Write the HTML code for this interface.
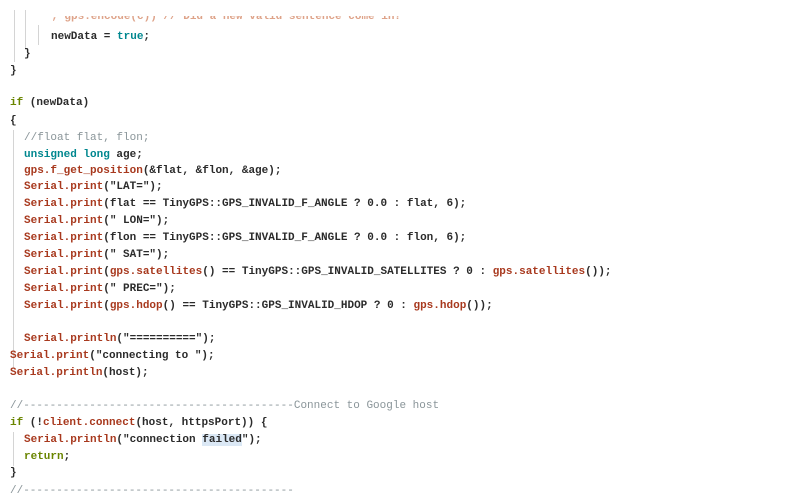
<!DOCTYPE html>
<html><head><meta charset="utf-8"><style>
body{margin:0;width:800px;height:500px;background:#fff;overflow:hidden;position:relative;font-family:"Liberation Mono",monospace;font-size:11px;color:#2b2b2b;font-weight:bold}
.l{position:absolute;white-space:pre;line-height:14px}
.r{color:#a8391e}.k{color:#6a8500}.t{color:#00878f}.c{color:#8a9599;font-weight:normal}.o{color:#c4582a}
.g{position:absolute;width:1px;background:#d4d4d4}
</style></head><body>
<div class="g" style="left:14px;top:10px;height:52px"></div>
<div class="g" style="left:25px;top:10px;height:40px"></div>
<div class="g" style="left:38px;top:25px;height:20px"></div>
<div class="g" style="left:13px;top:130px;height:238px"></div>
<div class="g" style="left:13px;top:432px;height:34px"></div>
<div style="position:absolute;left:0;top:16px;width:800px;height:8px;overflow:hidden">
<div class="l" style="left:38px;top:-6px;color:#c4582a;opacity:.55">  ; gps.encode(c)) // Did a new valid sentence come in?</div></div>
<div class="l" style="left:51px;top:30px">newData = <span class="t">true</span>;</div>
<div class="l" style="left:24px;top:47px">}</div>
<div class="l" style="left:10px;top:64px">}</div>
<div class="l" style="left:10px;top:96px"><span class="k">if</span> (newData)</div>
<div class="l" style="left:10px;top:114px">{</div>
<div class="l c" style="left:24px;top:131px">//float flat, flon;</div>
<div class="l" style="left:24px;top:148px"><span class="t">unsigned</span> <span class="t">long</span> age;</div>
<div class="l" style="left:24px;top:164px"><span class="r">gps.f_get_position</span>(&amp;flat, &amp;flon, &amp;age);</div>
<div class="l" style="left:24px;top:180px"><span class="r">Serial.print</span>("LAT=");</div>
<div class="l" style="left:24px;top:197px"><span class="r">Serial.print</span>(flat == TinyGPS::GPS_INVALID_F_ANGLE ? 0.0 : flat, 6);</div>
<div class="l" style="left:24px;top:214px"><span class="r">Serial.print</span>(" LON=");</div>
<div class="l" style="left:24px;top:231px"><span class="r">Serial.print</span>(flon == TinyGPS::GPS_INVALID_F_ANGLE ? 0.0 : flon, 6);</div>
<div class="l" style="left:24px;top:248px"><span class="r">Serial.print</span>(" SAT=");</div>
<div class="l" style="left:24px;top:265px"><span class="r">Serial.print</span>(<span class="r">gps.satellites</span>() == TinyGPS::GPS_INVALID_SATELLITES ? 0 : <span class="r">gps.satellites</span>());</div>
<div class="l" style="left:24px;top:282px"><span class="r">Serial.print</span>(" PREC=");</div>
<div class="l" style="left:24px;top:299px"><span class="r">Serial.print</span>(<span class="r">gps.hdop</span>() == TinyGPS::GPS_INVALID_HDOP ? 0 : <span class="r">gps.hdop</span>());</div>
<div class="l" style="left:24px;top:332px"><span class="r">Serial.println</span>("==========");</div>
<div class="l" style="left:10px;top:349px"><span class="r">Serial.print</span>("connecting to ");</div>
<div class="l" style="left:10px;top:366px"><span class="r">Serial.println</span>(host);</div>
<div class="l c" style="left:10px;top:399px">//-----------------------------------------Connect to Google host</div>
<div class="l" style="left:10px;top:416px"><span class="k">if</span> (!<span class="r">client.connect</span>(host, httpsPort)) {</div>
<div class="l" style="left:24px;top:433px"><span class="r">Serial.println</span>("connection <span style="background:#dbe8f5">failed</span>");</div>
<div class="l" style="left:24px;top:450px"><span class="k">return</span>;</div>
<div class="l" style="left:10px;top:466px">}</div>
<div class="l c" style="left:10px;top:484px">//-----------------------------------------</div>
</body></html>
